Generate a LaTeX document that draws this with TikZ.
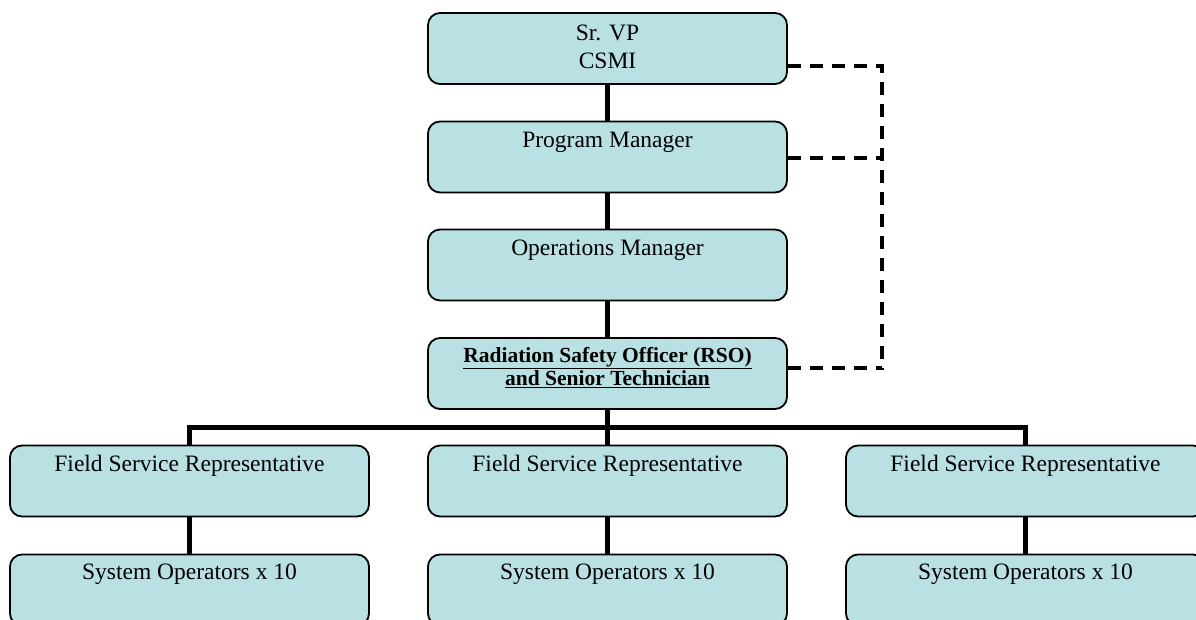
\documentclass[tikz,border=0pt]{standalone}
\usepackage{fontspec}
\setmainfont{Liberation Serif}
\definecolor{boxfill}{RGB}{185,224,227}
\begin{document}
\begin{tikzpicture}[x=1pt,y=-1pt,
  orgbox/.style={draw=black, line width=1.8pt, fill=boxfill, rounded corners=12pt,
    minimum width=359pt, minimum height=71pt, inner sep=0pt},
  boxtext/.style={font=\fontsize{23.5}{28}\selectfont, inner sep=0pt, anchor=base},
  boxtexttwo/.style={font=\fontsize{23.5}{28}\selectfont, inner sep=0pt, anchor=north, align=center},
  rsotext/.style={font=\fontsize{21.5}{23}\selectfont\bfseries, inner sep=0pt, anchor=north, align=center},
  solidlink/.style={line width=5pt},
  dashlink/.style={line width=3.3pt, dash pattern=on 13pt off 9pt}]
\clip (0,0) rectangle (1196,620);
% anchor coordinates
\coordinate (psrvp) at (607.5,48.5);
\coordinate (ppm) at (607.5,157);
\coordinate (pom) at (607.5,265);
\coordinate (prso) at (607.5,373.5);
\coordinate (bus) at (607.5,427);
% solid connectors (drawn first, boxes cover the ends)
\node[orgbox] (srvp) at (psrvp) {};
\node[orgbox] (pm) at (ppm) {};
\node[orgbox] (om) at (pom) {};
\node[orgbox] (rso) at (prso) {};
\node[orgbox] (fsra) at (189.5,481) {};
\node[orgbox] (fsrb) at (607.5,481) {};
\node[orgbox] (fsrc) at (1025.5,481) {};
\node[orgbox] (sysa) at (189.5,590) {};
\node[orgbox] (sysb) at (607.5,590) {};
\node[orgbox] (sysc) at (1025.5,590) {};
\draw[solidlink] (srvp.south) -- (pm.north);
\draw[solidlink] (pm.south) -- (om.north);
\draw[solidlink] (om.south) -- (rso.north);
\draw[solidlink] (rso.south) -- (fsrb.north);
\draw[solidlink] (fsra.north) |- (bus) -| (fsrc.north);
\draw[solidlink] (fsra.south) -- (sysa.north);
\draw[solidlink] (fsrb.south) -- (sysb.north);
\draw[solidlink] (fsrc.south) -- (sysc.north);
% dashed connectors
\coordinate (dtop) at (882,66);
\coordinate (dpm) at (882,158);
\coordinate (drso) at (882,368);
\coordinate (dbot) at (882,370);
\draw[dashlink] (srvp.east |- dtop) -- (dtop) -- (dbot);
\draw[dashlink] (pm.east |- dpm) -- (dpm);
\draw[dashlink] (rso.east |- drso) -- (drso);
% texts
\node[boxtexttwo] (tsrvp) at ([yshift=-13pt]srvp.north) {Sr. VP\\CSMI};
\node[boxtext] (tpm) at ([yshift=-27pt]pm.north) {Program Manager};
\node[boxtext] (tom) at ([yshift=-27pt]om.north) {Operations Manager};
\node[rsotext] (trso) at ([yshift=-10pt]rso.north) {\underline{Radiation Safety Officer (RSO)}\\\underline{and Senior Technician}};
\node[boxtext] (tfsra) at ([yshift=-27pt]fsra.north) {Field Service Representative};
\node[boxtext] (tfsrb) at ([yshift=-27pt]fsrb.north) {Field Service Representative};
\node[boxtext] (tfsrc) at ([yshift=-27pt]fsrc.north) {Field Service Representative};
\node[boxtext] (tsysa) at ([yshift=-26pt]sysa.north) {System Operators x 10};
\node[boxtext] (tsysb) at ([yshift=-26pt]sysb.north) {System Operators x 10};
\node[boxtext] (tsysc) at ([yshift=-26pt]sysc.north) {System Operators x 10};
\end{tikzpicture}
\end{document}
